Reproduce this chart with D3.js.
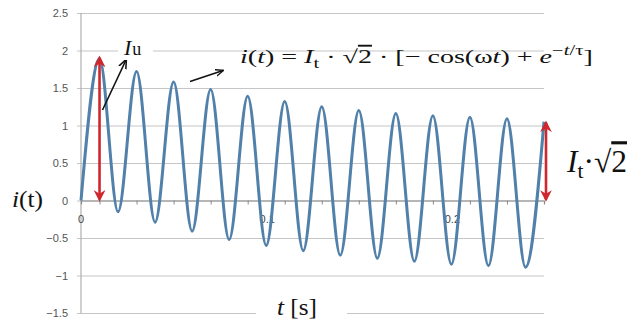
<!DOCTYPE html>
<html>
<head>
<meta charset="utf-8">
<script src="https://cdn.jsdelivr.net/npm/d3@7"></script>
<style>
  html, body { margin: 0; padding: 0; background: #fff; }
  svg { display: block; }
</style>
</head>
<body>
<svg id="chart" width="630" height="329"></svg>
<script>
// ---- data ----
// extrema of the current (peaks and troughs), time in seconds
const times = [0, 0.01, 0.02, 0.03, 0.04, 0.05, 0.06, 0.07, 0.08, 0.09, 0.10, 0.11, 0.12,
               0.13, 0.14, 0.15, 0.16, 0.17, 0.18, 0.19, 0.20, 0.21, 0.22, 0.23, 0.24, 0.25];
const currents = [0, 1.89, -0.15, 1.72, -0.29, 1.58, -0.41, 1.48, -0.52, 1.39, -0.60, 1.32, -0.67,
                  1.25, -0.73, 1.20, -0.77, 1.16, -0.81, 1.13, -0.85, 1.11, -0.87, 1.09, -0.89, 1.05];
const yTicks = [-1.5, -1, -0.5, 0, 0.5, 1, 1.5, 2, 2.5];
const xTickLabels = [0, 0.1, 0.2];
const xMinorTicks = [0.01, 0.03, 0.05, 0.07, 0.09, 0.11, 0.13, 0.15, 0.17, 0.19, 0.21, 0.23];

const svg = d3.select("#chart");
const x = d3.scaleLinear().domain([0, 0.25]).range([81, 544]);
const y = d3.scaleLinear().domain([-1.5, 2.5]).range([313, 13]);

const serif = "'Liberation Serif', 'DejaVu Serif', serif";
const sans = "'Liberation Sans', Arial, sans-serif";

// gridlines + y axis labels
const yAxis = d3.axisLeft(y).tickValues(yTicks).tickSize(-(x.range()[1] - x.range()[0]) - 4)
  .tickFormat(d3.format("~g")).tickPadding(9);
const gy = svg.append("g").attr("transform", `translate(${x.range()[0] - 4},0)`).call(yAxis);
gy.select(".domain").remove();
gy.selectAll(".tick line").attr("stroke", "#c6c6c6").attr("stroke-width", 1.2);
gy.selectAll(".tick text").attr("font-family", sans).attr("font-size", 11).attr("fill", "#555");

// vertical axis line
svg.append("line").attr("x1", x(0)).attr("x2", x(0)).attr("y1", y(2.5)).attr("y2", y(-1.5))
  .attr("stroke", "#b0b0b0").attr("stroke-width", 1.2);

// horizontal axis at 0
const xAxis = d3.axisBottom(x).tickValues(xMinorTicks).tickSize(4).tickFormat("");
const gx = svg.append("g").attr("transform", `translate(0,${y(0)})`).call(xAxis);
gx.select(".domain").attr("stroke", "#8a8a8a").attr("stroke-width", 1.2);
gx.selectAll(".tick line").attr("stroke", "#8a8a8a");

// x labels
svg.append("g").selectAll("text").data(xTickLabels).join("text")
  .attr("x", d => x(d) + (d === 0 ? 0 : 1)).attr("y", y(0) + 22)
  .attr("text-anchor", "middle").attr("font-family", sans).attr("font-size", 11).attr("fill", "#444")
  .text(d => d3.format("~g")(d));

// curve
const pts = times.map((t, i) => [t, currents[i]]);
svg.append("path").datum(pts)
  .attr("d", d3.line().x(d => x(d[0])).y(d => y(d[1])).curve(d3.curveMonotoneX))
  .attr("fill", "none").attr("stroke", "#5181ab").attr("stroke-width", 3);

// markers
const defs = svg.append("defs");
defs.append("marker").attr("id", "redhead").attr("viewBox", "0 0 10 10").attr("refX", 8).attr("refY", 5)
  .attr("markerWidth", 4.5).attr("markerHeight", 4.5).attr("markerUnits", "strokeWidth").attr("orient", "auto-start-reverse")
  .append("path").attr("d", "M0,0 L10,5 L0,10 L3,5 Z").attr("fill", "#d0262d");
defs.append("marker").attr("id", "blackhead").attr("viewBox", "0 0 10 10").attr("refX", 9).attr("refY", 5)
  .attr("markerWidth", 6).attr("markerHeight", 6).attr("markerUnits", "strokeWidth").attr("orient", "auto")
  .append("path").attr("d", "M0,1 L10,5 L0,9").attr("fill", "none").attr("stroke", "#111").attr("stroke-width", 1.6);

// red double arrows
svg.append("line").attr("x1", x(0.01)).attr("x2", x(0.01)).attr("y1", y(0) - 1).attr("y2", y(currents[1]) - 1)
  .attr("stroke", "#d0262d").attr("stroke-width", 2.6)
  .attr("marker-start", "url(#redhead)").attr("marker-end", "url(#redhead)");
const lastT = times[times.length - 1];
svg.append("line").attr("x1", x(lastT) + 2).attr("x2", x(lastT) + 2).attr("y1", y(0) - 1).attr("y2", y(currents[currents.length - 1]) + 1)
  .attr("stroke", "#d0262d").attr("stroke-width", 2.6)
  .attr("marker-start", "url(#redhead)").attr("marker-end", "url(#redhead)");

// black arrows
svg.append("line").attr("x1", 102.5).attr("y1", 110).attr("x2", 126).attr("y2", 60)
  .attr("stroke", "#111").attr("stroke-width", 1.6).attr("marker-end", "url(#blackhead)");
svg.append("line").attr("x1", 190).attr("y1", 81.5).attr("x2", 223).attr("y2", 70.5)
  .attr("stroke", "#111").attr("stroke-width", 1.4).attr("marker-end", "url(#blackhead)");

// helper to fit a text's width horizontally
function fitWidth(sel, x0, w) {
  const bb = sel.node().getBBox();
  const k = w / bb.width;
  const y0 = +sel.attr("y");
  sel.attr("transform", `translate(${x0},${y0}) scale(${k},1) translate(${-bb.x},${-y0})`);
}

// I_u label with white background
svg.append("rect").attr("x", 118).attr("y", 38).attr("width", 35).attr("height", 22).attr("fill", "#fff");
const iu = svg.append("text").attr("x", 124).attr("y", 55).attr("font-family", serif).attr("font-size", 22).attr("fill", "#111");
iu.append("tspan").attr("font-style", "italic").text("I");
iu.append("tspan").attr("font-size", 18).attr("dx", 1).text("u");

// formula
const f = svg.append("text").attr("x", 0).attr("y", 63).attr("font-family", serif).attr("font-size", 19).attr("fill", "#111");
f.append("tspan").attr("font-style", "italic").text("i");
f.append("tspan").text("(");
f.append("tspan").attr("font-style", "italic").text("t");
f.append("tspan").text(") = ");
f.append("tspan").attr("font-style", "italic").text("I");
f.append("tspan").attr("font-size", 14).attr("dy", 5).text("t");
f.append("tspan").attr("dy", -5).text(" · √");
f.append("tspan").attr("text-decoration", "overline").text("2");
f.append("tspan").text(" · [− cos(ω");
f.append("tspan").attr("font-style", "italic").text("t");
f.append("tspan").text(") + ");
f.append("tspan").attr("font-style", "italic").text("e");
f.append("tspan").attr("font-size", 14).attr("dy", -8).text("−");
f.append("tspan").attr("font-size", 14).attr("font-style", "italic").text("t");
f.append("tspan").attr("font-size", 14).text("/τ");
f.append("tspan").attr("dy", 8).text("]");
fitWidth(f, 240, 353);

// right label I_t · √2
const r = svg.append("text").attr("x", 0).attr("y", 172).attr("font-family", serif).attr("font-size", 31).attr("fill", "#111");
r.append("tspan").attr("font-style", "italic").text("I");
r.append("tspan").attr("font-size", 21).attr("dy", 6).text("t");
r.append("tspan").attr("dy", -6).text("·√");
r.append("tspan").attr("text-decoration", "overline").text("2");
fitWidth(r, 566, 61);

// i(t) axis title
const it = svg.append("text").attr("x", 0).attr("y", 207).attr("font-family", serif).attr("font-size", 23).attr("fill", "#111");
it.append("tspan").attr("font-style", "italic").text("i");
it.append("tspan").text("(t)");
fitWidth(it, 12, 31);

// t [s] axis title with white background
svg.append("rect").attr("x", 256).attr("y", 296).attr("width", 91).attr("height", 28).attr("fill", "#fff");
const ts = svg.append("text").attr("x", 0).attr("y", 315).attr("font-family", serif).attr("font-size", 23).attr("fill", "#111");
ts.append("tspan").attr("font-style", "italic").text("t");
ts.append("tspan").text(" [s]");
fitWidth(ts, 277, 40);
</script>
</body>
</html>
